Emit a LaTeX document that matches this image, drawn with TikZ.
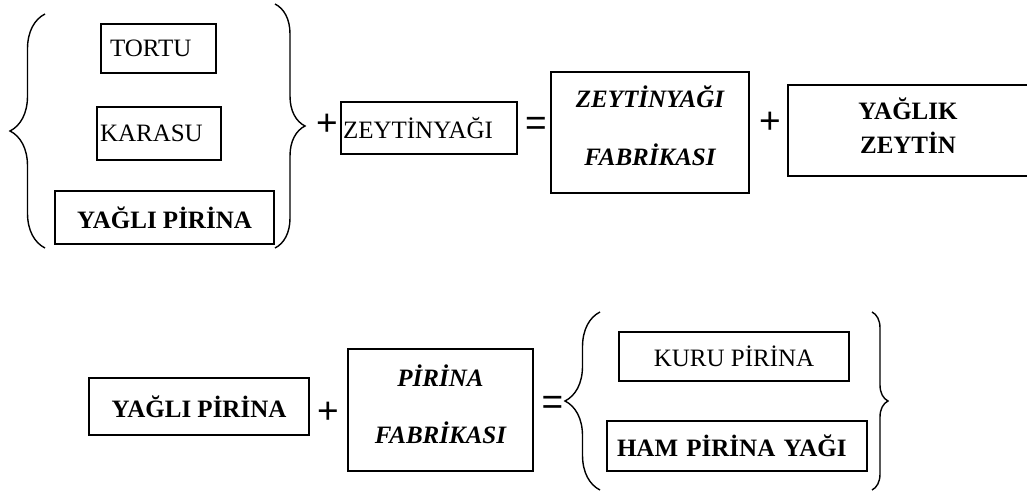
\documentclass[tikz,border=0pt]{standalone}
\usepackage{fontspec}
\setmainfont{Liberation Serif}
\newfontfamily\signfont{Liberation Sans}
\usetikzlibrary{decorations.pathreplacing}

\tikzset{
  box/.style={draw, line width=1.4pt, inner sep=0pt, font=\fontsize{25}{29}\selectfont},
  sign/.style={inner sep=0pt, font=\signfont\fontsize{37}{40}\selectfont},
  curly/.style={decorate, decoration={brace, amplitude=#1}, line width=1.4pt},
}

\begin{document}
\begin{tikzpicture}[x=1pt, y=-1pt]
\useasboundingbox (0,0) rectangle (1027,494);

\node[box, minimum width=115pt, minimum height=49pt, text width=97pt, inner xsep=9pt, align=left] (tortu) at (158.5,48.5) {TORTU};
\node[box, minimum width=124pt, minimum height=53pt, text width=118pt, inner xsep=3pt, align=left] (karasu) at (159,133.5) {KARASU};
\node[box, minimum width=219pt, minimum height=53pt] (yagli) at (164.5,217.5) {\textbf{YAĞLI PİRİNA}};
\draw[curly=35pt] (45,248) -- (45,14);
\draw[curly=30pt] (275,4) -- (275,248);
\node[sign] (plus1) at (327,125) {+};
\node[box, minimum width=176pt, minimum height=52pt, text width=172pt, inner xsep=2pt, align=left] (zeytinyagi) at (429,128) {ZEYTİNYAĞI};
\node[sign] (eq1) at (536,126) {=};
\node[box, minimum width=198pt, minimum height=121pt, align=center, text depth=14pt, font=\fontsize{25}{58}\selectfont\bfseries\itshape] (zfab) at (650,132.5) {ZEYTİNYAĞI\\FABRİKASI};
\node[sign] (plus2) at (770,123) {+};
\node[box, minimum width=240pt, minimum height=91pt, align=center, text depth=10pt, font=\fontsize{25}{34}\selectfont\bfseries] (yaglik) at (908,130.5) {YAĞLIK\\ZEYTİN};

\node[box, minimum width=220pt, minimum height=57pt] (yagli2) at (199,406.5) {\textbf{YAĞLI PİRİNA}};
\node[sign] (plus3) at (328,413) {+};
\node[box, minimum width=185pt, minimum height=122pt, align=center, text depth=12pt, font=\fontsize{25}{57}\selectfont\bfseries\itshape] (pfab) at (440.5,410) {PİRİNA\\FABRİKASI};
\node[sign] (eq2) at (552.5,405) {=};
\draw[curly=35pt] (600,490) -- (600,312);
\node[box, minimum width=230pt, minimum height=49pt] (kuru) at (734,356.5) {KURU PİRİNA};
\node[box, minimum width=260pt, minimum height=50pt, text width=240pt, inner xsep=10pt, align=left] (hamyag) at (737,446) {\textbf{HAM PİRİNA YAĞI}};
\draw[curly=16pt] (872,312) -- (872,490);
\end{tikzpicture}
\end{document}
